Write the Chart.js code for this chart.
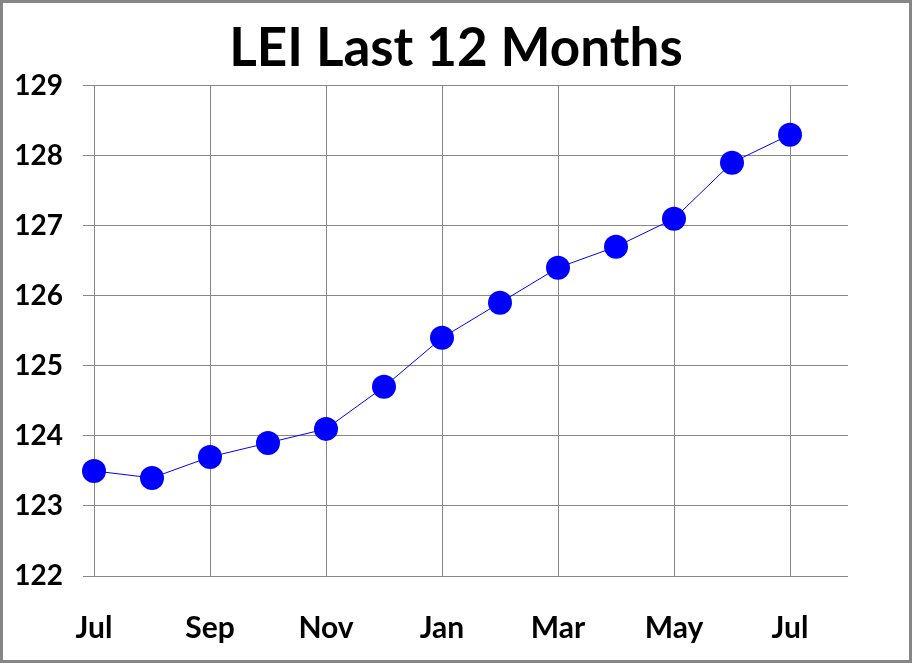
<!DOCTYPE html>
<html>
<head>
<meta charset="utf-8">
<script src="https://cdn.jsdelivr.net/npm/chart.js@4"></script>
<style>
  html, body { margin: 0; padding: 0; background: #fff; }
  #wrap {
    width: 906px; height: 657px;
    border: 3px solid #868686;
    position: relative;
  }
</style>
</head>
<body>
<div id="wrap"><canvas id="lei-chart"></canvas></div>
<script>
// Datos del gráfico
const months = ['Jul', 'Aug', 'Sep', 'Oct', 'Nov', 'Dec', 'Jan', 'Feb', 'Mar', 'Apr', 'May', 'Jun', 'Jul'];
const leiValues = [123.5, 123.4, 123.7, 123.9, 124.1, 124.7, 125.4, 125.9, 126.4, 126.7, 127.1, 127.9, 128.3];
const yTicks = [122, 123, 124, 125, 126, 127, 128, 129];

const fontFamily = 'Lato, "Open Sans", sans-serif';
const gridColor = '#878787';

document.addEventListener('DOMContentLoaded', function() {
  const ctx = document.getElementById('lei-chart');
  new Chart(ctx, {
    type: 'line',
    data: {
      datasets: [{
        label: 'LEI',
        data: leiValues.map(function(v, i) { return { x: i, y: v }; }),
        borderColor: '#0000ff',
        backgroundColor: '#0000ff',
        borderWidth: 1,
        tension: 0,
        clip: false,
        pointRadius: 12,
        pointBorderWidth: 0,
        pointBackgroundColor: '#0000ff'
      }]
    },
    options: {
      responsive: true,
      maintainAspectRatio: false,
      animation: false,
      layout: { autoPadding: false, padding: 0 },
      plugins: {
        legend: { display: false },
        tooltip: { enabled: false },
        title: {
          display: true,
          text: 'LEI Last 12 Months',
          color: '#000',
          font: { family: fontFamily, size: 53, weight: 'bold' },
          padding: { top: 14, bottom: 5 }
        }
      },
      scales: {
        x: {
          type: 'linear',
          min: 0,
          max: months.length,
          border: { display: false },
          grid: { color: gridColor, drawTicks: false, lineWidth: 1 },
          afterBuildTicks: function(scale) {
            scale.ticks = months.map(function(m, i) { return { value: i }; })
              .filter(function(t) { return t.value % 2 === 0; });
          },
          afterFit: function(scale) { scale.height = 84; },
          ticks: {
            color: '#000',
            padding: 34,
            autoSkip: false,
            maxRotation: 0,
            font: { family: fontFamily, size: 30, weight: 'bold' },
            callback: function(value) { return months[value] || ''; }
          }
        },
        y: {
          min: yTicks[0],
          max: yTicks[yTicks.length - 1],
          border: { display: false },
          grid: { color: gridColor, lineWidth: 1, tickLength: 11, tickColor: gridColor },
          afterBuildTicks: function(scale) {
            scale.ticks = yTicks.map(function(v) { return { value: v }; });
          },
          afterFit: function(scale) { scale.width = 91; },
          ticks: {
            color: '#000',
            padding: 20,
            font: { family: fontFamily, size: 28, weight: 'bold' }
          }
        },
        // eje vacío a la derecha para dejar el margen
        yRight: {
          position: 'right',
          display: true,
          border: { display: false },
          grid: { display: false },
          ticks: { display: false },
          afterFit: function(scale) { scale.width = 61; }
        }
      }
    }
  });
});
</script>
</body>
</html>
